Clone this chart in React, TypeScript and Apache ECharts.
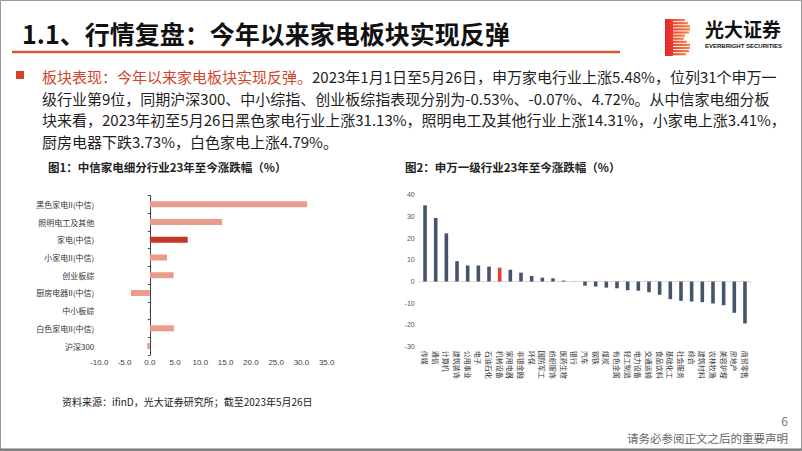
import React, { useEffect, useRef } from "react";
import * as echarts from "echarts";

const leftCategories = [
  "黑色家电II(中信)",
  "照明电工及其他",
  "家电(中信)",
  "小家电II(中信)",
  "创业板综",
  "厨房电器II(中信)",
  "中小板综",
  "白色家电II(中信)",
  "沪深300",
];
const leftValues = [31.13, 14.31, 7.5, 3.41, 4.72, -3.73, -0.07, 4.79, -0.53];
const leftHighlight = "家电(中信)";
const leftTicks = [-10, 35, 5];

const rightCategories = [
  "传媒", "通信", "计算机", "建筑装饰", "公用事业", "电子", "石油石化", "机械设备",
  "家用电器", "非银金融", "环保", "国防军工", "纺织服饰", "医药生物", "银行", "汽车",
  "钢铁", "煤炭", "有色金属", "轻工制造", "电力设备", "交通运输", "食品饮料", "基础化工",
  "社会服务", "综合", "建筑材料", "农林牧渔", "美容护理", "房地产", "商贸零售",
];
const rightValues = [
  35.1, 29.3, 22.2, 9.4, 7.4, 7.4, 6.9, 6.4,
  5.48, 4.1, 2.6, 1.8, 1.5, 0.45, 0.05, -1.9,
  -2.3, -2.8, -3.1, -4.0, -4.2, -4.9, -6.1, -8.1,
  -8.9, -9.2, -9.5, -10.1, -10.9, -14.4, -19.3,
];
const rightHighlightIndex = 7;
const rightTicks = [-30, 40, 10];

const FONT = '"Noto Sans CJK SC", "Noto Sans", sans-serif';
const RED = "#D2452B";
const DARK = "#1e1e1e";

const paraLines = [
  "2023年1月1日至5月26日，申万家电行业上涨5.48%，位列31个申万一",
  "级行业第9位，同期沪深300、中小综指、创业板综指表现分别为-0.53%、-0.07%、4.72%。从中信家电细分板",
  "块来看，2023年初至5月26日黑色家电行业上涨31.13%，照明电工及其他行业上涨14.31%，小家电上涨3.41%，",
  "厨房电器下跌3.73%，白色家电上涨4.79%。",
];
const paraLead = "板块表现：今年以来家电板块实现反弹。";

function logoShapes() {
  const items: any[] = [];
  const widths = [20, 23, 25, 25, 24, 20, 19, 22, 25, 25, 24, 21];
  const grad = new echarts.graphic.LinearGradient(0, 0, 1, 0, [
    { offset: 0, color: "#E3262A" },
    { offset: 1, color: "#F3874A" },
  ]);
  items.push({ type: "rect", shape: { x: 665, y: 19, width: 8, height: 37 }, style: { fill: "#E3262A" } });
  widths.forEach((w, i) => {
    items.push({
      type: "rect",
      shape: { x: 665, y: 19 + i * 3.1, width: w, height: 2.2 },
      style: { fill: grad },
    });
  });
  return items;
}

export default function App() {
  const ref = useRef<HTMLDivElement>(null);
  useEffect(() => {
    if (!ref.current) return;
    const chart = echarts.init(ref.current, undefined, { renderer: "svg" });
    const option: any = {
      animation: false,
      backgroundColor: "#ffffff",
      textStyle: { fontFamily: FONT },
      grid: [
        { left: 99.3, top: 195.5, width: 227.4, height: 159.4 },
        { left: 419.7, top: 194.7, width: 330.6, height: 152 },
      ],
      xAxis: [
        {
          type: "value", gridIndex: 0, min: leftTicks[0], max: leftTicks[1], interval: leftTicks[2],
          axisLine: { show: false }, axisTick: { show: false }, splitLine: { show: false },
          axisLabel: { formatter: (v: number) => v.toFixed(1), fontSize: 8, color: "#404040", margin: 4, fontFamily: "Liberation Sans" },
        },
        {
          type: "category", gridIndex: 1, data: rightCategories, position: "bottom",
          axisLine: { show: false, onZero: false }, axisTick: { show: false },
          axisLabel: { rotate: -90, fontSize: 7, color: "#333", margin: 4, interval: 0 },
        },
        {
          type: "category", gridIndex: 1, data: rightCategories, position: "bottom",
          axisLine: { show: true, onZero: true, lineStyle: { color: "#E6D6D6", width: 1 } },
          axisTick: { show: true, length: 2, lineStyle: { color: "#E6D6D6" } },
          axisLabel: { show: false },
        },
      ],
      yAxis: [
        {
          type: "category", gridIndex: 0, data: leftCategories, inverse: true,
          axisLine: { show: false, onZero: false }, axisTick: { show: false },
          axisLabel: { fontSize: 8, color: "#333", margin: 5, interval: 0 },
        },
        {
          type: "category", gridIndex: 0, data: leftCategories, inverse: true, position: "left",
          axisLine: { show: true, onZero: true, lineStyle: { color: "#404040", width: 1 } },
          axisTick: { show: true, length: 2, lineStyle: { color: "#404040" } },
          axisLabel: { show: false },
        },
        {
          type: "value", gridIndex: 1, min: rightTicks[0], max: rightTicks[1], interval: rightTicks[2],
          axisLine: { show: false }, axisTick: { show: false }, splitLine: { show: false },
          axisLabel: { fontSize: 7, color: "#555", margin: 5, fontFamily: "Liberation Sans" },
        },
      ],
      series: [
        {
          type: "bar", xAxisIndex: 0, yAxisIndex: 0, barWidth: 6,
          data: leftValues.map((v, i) => ({
            value: v,
            itemStyle: { color: leftCategories[i] === leftHighlight ? "#C6392A" : "#EA9C8C" },
          })),
        },
        {
          type: "bar", xAxisIndex: 1, yAxisIndex: 2, barWidth: 3.6,
          data: rightValues.map((v, i) => ({
            value: v,
            itemStyle: { color: i === rightHighlightIndex ? "#E0402E" : "#44546A" },
          })),
        },
      ],
      graphic: [
        { type: "rect", shape: { x: 0.5, y: 0.5, width: 801, height: 450 }, style: { fill: "none", stroke: "#999", lineWidth: 1 } },
        { type: "line", shape: { x1: 0, y1: 449.5, x2: 802, y2: 449.5 }, style: { stroke: "#777", lineWidth: 2 } },
        {
          type: "text", x: 22, y: 33,
          style: { text: "1.1、行情复盘：今年以来家电板块实现反弹", fontSize: 25, fontWeight: "bold", fontFamily: FONT, fill: "#111", verticalAlign: "middle" },
        },
        { type: "line", shape: { x1: 12, y1: 52, x2: 620, y2: 52 }, style: { stroke: "#CD5B3C", lineWidth: 2.5 } },
        ...logoShapes(),
        {
          type: "text", x: 705, y: 28,
          style: { text: "光大证券", fontSize: 19, fontWeight: "bold", fontFamily: FONT, fill: "#111", verticalAlign: "middle" },
        },
        {
          type: "text", x: 705, y: 45.5,
          style: { text: "EVERBRIGHT SECURITIES", fontSize: 6, fontWeight: "bold", fontFamily: "Liberation Sans", fill: "#111", verticalAlign: "middle" },
        },
        { type: "rect", shape: { x: 16, y: 71, width: 8, height: 8 }, style: { fill: RED } },
        {
          type: "text", x: 42, y: 76,
          style: {
            text: "{r|" + paraLead + "}{n|" + paraLines[0] + "}",
            fontSize: 15, fontFamily: FONT, verticalAlign: "middle",
            rich: {
              r: { fill: RED, fontSize: 15, fontFamily: FONT },
              n: { fill: DARK, fontSize: 15, fontFamily: FONT },
            },
          },
        },
        ...paraLines.slice(1).map((t, i) => ({
          type: "text", x: 42, y: 98 + i * 21.7,
          style: { text: t, fontSize: 15, fontFamily: FONT, fill: DARK, verticalAlign: "middle" },
        })),
        {
          type: "text", x: 48, y: 167,
          style: { text: "图1：中信家电细分行业23年至今涨跌幅（%）", fontSize: 11.5, fontWeight: "bold", fontFamily: FONT, fill: "#222", verticalAlign: "middle" },
        },
        {
          type: "text", x: 405, y: 167,
          style: { text: "图2：申万一级行业23年至今涨跌幅（%）", fontSize: 11.5, fontWeight: "bold", fontFamily: FONT, fill: "#222", verticalAlign: "middle" },
        },
        {
          type: "text", x: 62, y: 401,
          style: { text: "资料来源：ifinD，光大证券研究所；截至2023年5月26日", fontSize: 10, fontFamily: FONT, fill: "#222", verticalAlign: "middle" },
        },
        {
          type: "text", x: 788, y: 420,
          style: { text: "6", fontSize: 12, fontFamily: FONT, fill: "#777", align: "right", verticalAlign: "middle" },
        },
        {
          type: "text", x: 788, y: 438,
          style: { text: "请务必参阅正文之后的重要声明", fontSize: 11.5, fontFamily: FONT, fill: "#666", align: "right", verticalAlign: "middle" },
        },
      ],
    };
    chart.setOption(option);
    return () => chart.dispose();
  }, []);
  return (
    <div
      ref={ref}
      style={{ position: "fixed", left: 0, top: 0, width: 802, height: 451, background: "#fff" }}
    />
  );
}
